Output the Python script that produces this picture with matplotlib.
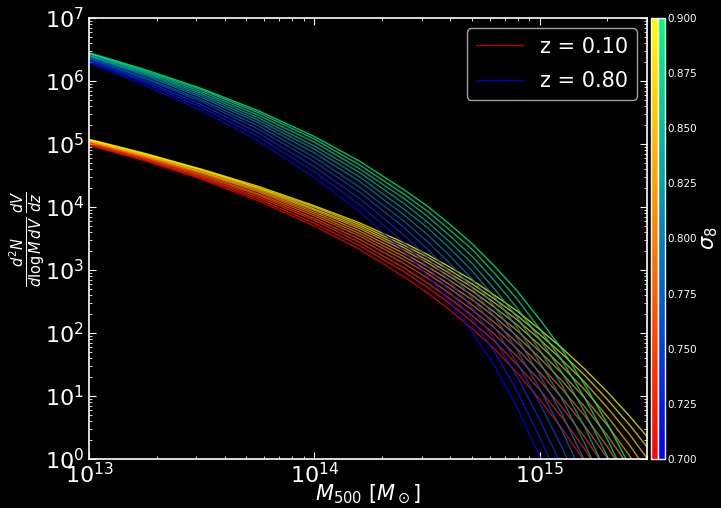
import numpy as np
import matplotlib
matplotlib.use('Agg')
import matplotlib.pyplot as plt
from matplotlib.colors import Normalize
from matplotlib.cm import ScalarMappable

# log10 of mass grid (M500 in Msun)
log_mass = [13.0, 13.25, 13.5, 13.75, 14.0, 14.2, 14.4, 14.5, 14.6, 14.7,
            14.8, 14.9, 15.0, 15.1, 15.2, 15.3, 15.4, 15.5]

sigma8 = [0.70, 0.72, 0.74, 0.76, 0.78, 0.80, 0.82, 0.84, 0.86, 0.88, 0.90]

# log10 of d2N/dlogMdV dV/dz, one row per sigma8
logn_z010 = [
    [4.98, 4.73, 4.44, 4.10, 3.70, 3.33, 2.89, 2.64, 2.37, 2.07, 1.75, 1.37, 0.95, 0.48, -0.04, -0.64, -1.35, -2.20],
    [4.99, 4.75, 4.46, 4.13, 3.74, 3.39, 2.97, 2.73, 2.47, 2.18, 1.87, 1.50, 1.10, 0.66, 0.16, -0.40, -1.07, -1.86],
    [5.01, 4.76, 4.48, 4.16, 3.79, 3.44, 3.03, 2.80, 2.55, 2.28, 1.98, 1.63, 1.25, 0.82, 0.35, -0.18, -0.81, -1.54],
    [5.02, 4.78, 4.50, 4.19, 3.82, 3.49, 3.10, 2.88, 2.63, 2.37, 2.08, 1.75, 1.38, 0.97, 0.53, 0.02, -0.57, -1.25],
    [5.03, 4.79, 4.52, 4.21, 3.86, 3.54, 3.16, 2.95, 2.71, 2.45, 2.17, 1.85, 1.50, 1.11, 0.69, 0.20, -0.35, -0.99],
    [5.04, 4.80, 4.54, 4.24, 3.89, 3.58, 3.21, 3.00, 2.77, 2.53, 2.26, 1.95, 1.61, 1.24, 0.83, 0.38, -0.14, -0.74],
    [5.05, 4.81, 4.55, 4.26, 3.92, 3.62, 3.26, 3.06, 2.84, 2.60, 2.33, 2.04, 1.71, 1.36, 0.97, 0.54, 0.05, -0.51],
    [5.05, 4.82, 4.56, 4.28, 3.95, 3.66, 3.31, 3.12, 2.90, 2.67, 2.41, 2.13, 1.81, 1.47, 1.10, 0.68, 0.22, -0.30],
    [5.06, 4.83, 4.58, 4.30, 3.97, 3.69, 3.35, 3.16, 2.95, 2.73, 2.48, 2.21, 1.90, 1.57, 1.22, 0.82, 0.39, -0.10],
    [5.07, 4.84, 4.59, 4.31, 4.00, 3.72, 3.39, 3.21, 3.00, 2.78, 2.54, 2.28, 1.98, 1.67, 1.33, 0.95, 0.54, 0.09],
    [5.075, 4.85, 4.60, 4.33, 4.02, 3.75, 3.43, 3.25, 3.05, 2.84, 2.60, 2.35, 2.06, 1.76, 1.43, 1.07, 0.68, 0.26],
]

logn_z080 = [
    [6.29, 5.93, 5.53, 5.05, 4.47, 3.93, 3.29, 2.92, 2.50, 2.02, 1.48, 0.82, 0.05, -0.80, -1.80, -3.00, -4.50, -6.30],
    [6.31, 5.97, 5.58, 5.12, 4.56, 4.04, 3.43, 3.07, 2.67, 2.22, 1.70, 1.08, 0.35, -0.45, -1.39, -2.50, -3.89, -5.55],
    [6.33, 6.00, 5.62, 5.18, 4.64, 4.14, 3.55, 3.21, 2.83, 2.40, 1.90, 1.31, 0.63, -0.12, -1.00, -2.05, -3.33, -4.86],
    [6.35, 6.03, 5.67, 5.24, 4.72, 4.24, 3.67, 3.34, 2.97, 2.56, 2.09, 1.53, 0.89, 0.18, -0.65, -1.63, -2.81, -4.22],
    [6.37, 6.05, 5.70, 5.29, 4.79, 4.32, 3.77, 3.46, 3.11, 2.72, 2.26, 1.73, 1.12, 0.45, -0.33, -1.24, -2.34, -3.64],
    [6.39, 6.08, 5.74, 5.34, 4.86, 4.41, 3.87, 3.57, 3.23, 2.86, 2.42, 1.92, 1.34, 0.71, -0.03, -0.88, -1.89, -3.09],
    [6.40, 6.10, 5.77, 5.38, 4.92, 4.48, 3.96, 3.68, 3.35, 2.99, 2.57, 2.09, 1.54, 0.95, 0.25, -0.55, -1.48, -2.59],
    [6.41, 6.12, 5.80, 5.42, 4.97, 4.55, 4.05, 3.77, 3.45, 3.11, 2.70, 2.25, 1.73, 1.17, 0.51, -0.24, -1.10, -2.12],
    [6.43, 6.14, 5.83, 5.46, 5.03, 4.61, 4.13, 3.86, 3.55, 3.22, 2.83, 2.40, 1.91, 1.37, 0.75, 0.05, -0.75, -1.68],
    [6.44, 6.16, 5.86, 5.50, 5.08, 4.67, 4.20, 3.94, 3.64, 3.33, 2.95, 2.54, 2.07, 1.56, 0.97, 0.32, -0.42, -1.28],
    [6.45, 6.18, 5.88, 5.53, 5.12, 4.73, 4.27, 4.02, 3.73, 3.42, 3.06, 2.67, 2.22, 1.74, 1.18, 0.57, -0.11, -0.90],
]

plt.style.use('dark_background')

fig = plt.figure(figsize=(7.21, 5.08), dpi=100)
W, H = 721.0, 508.0
ax = fig.add_axes([89 / W, 49 / H, 558 / W, 441 / H])

norm = Normalize(vmin=0.70, vmax=0.90)
families = [(0.10, logn_z010, plt.cm.autumn), (0.80, logn_z080, plt.cm.winter)]

mass = 10 ** np.array(log_mass)
for z, table, cmap in families:
    for i, (s, row) in enumerate(zip(sigma8, table)):
        ax.plot(mass, 10 ** np.array(row), color=cmap(norm(s)), lw=1.0, alpha=0.75,
                label='z = %.2f' % z if i == 0 else None)

ax.set_xscale('log')
ax.set_yscale('log')
ax.set_xlim(1e13, 3e15)
ax.set_ylim(1, 1e7)

for sp in ax.spines.values():
    sp.set_color('white')
    sp.set_linewidth(1.2)
ax.tick_params(which='both', direction='in', top=True, right=True, colors='white')
ax.tick_params(which='major', length=5, labelsize=16)
ax.tick_params(axis='x', which='major', pad=2)
ax.tick_params(which='minor', length=2.5)

ax.set_xlabel(r'$M_{500}\ [M_\odot]$', fontsize=15, labelpad=-3)
ax.set_ylabel(r'$\frac{d^2N}{d\log M\,dV}\,\frac{dV}{dz}$', fontsize=15, labelpad=-2)

ax.legend(loc='upper right', fontsize=15, borderaxespad=0.5,
          handlelength=2.3, labelspacing=0.7)

cax1 = fig.add_axes([651 / W, 49 / H, 6.5 / W, 441 / H])
cax2 = fig.add_axes([658 / W, 49 / H, 7 / W, 441 / H])
cb1 = fig.colorbar(ScalarMappable(norm=norm, cmap=plt.cm.autumn), cax=cax1)
cb1.set_ticks([])
cb2 = fig.colorbar(ScalarMappable(norm=norm, cmap=plt.cm.winter), cax=cax2)
cb2.set_ticks([0.700, 0.725, 0.750, 0.775, 0.800, 0.825, 0.850, 0.875, 0.900])
cb2.ax.set_yticklabels(['%.3f' % t for t in cb2.get_ticks()])
cb2.ax.tick_params(labelsize=7.5, length=0, pad=2, colors='white')
cb2.set_label(r'$\sigma_8$', fontsize=15, labelpad=2)
for cb in (cb1, cb2):
    cb.outline.set_edgecolor('white')
    cb.outline.set_linewidth(1.0)

fig.savefig('out.png', dpi=100, facecolor='black')
